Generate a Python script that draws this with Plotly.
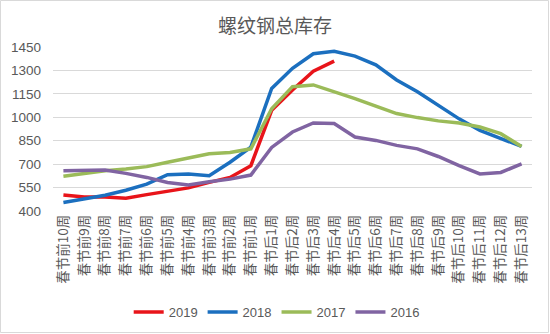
import plotly.graph_objects as go

categories = ["春节前10周", "春节前9周", "春节前8周", "春节前7周", "春节前6周",
              "春节前5周", "春节前4周", "春节前3周", "春节前2周", "春节前1周",
              "春节后1周", "春节后2周", "春节后3周", "春节后4周", "春节后5周",
              "春节后6周", "春节后7周", "春节后8周", "春节后9周", "春节后10周",
              "春节后11周", "春节后12周", "春节后13周"]

y2019 = [503, 490, 490, 482, 505, 525, 548, 583, 615, 690, 1045, 1175, 1295, 1360]
y2018 = [454, 475, 501, 533, 572, 632, 637, 626, 712, 809, 1185, 1314, 1407, 1422,
         1392, 1336, 1239, 1164, 1078, 990, 916, 863, 813]
y2017 = [622, 641, 658, 669, 684, 712, 740, 766, 774, 798, 1055, 1196, 1207, 1164,
         1120, 1071, 1024, 998, 977, 964, 938, 895, 813]
y2016 = [658, 658, 663, 641, 615, 583, 566, 587, 604, 630, 807, 906, 964, 960,
         874, 852, 820, 798, 749, 690, 637, 647, 701]

series_names = ["2019", "2018", "2017", "2016"]
series_values = [y2019, y2018, y2017, y2016]
colors = ["#E8141A", "#1B6FBF", "#9BBB59", "#8064A2"]

tick_vals = [400, 550, 700, 850, 1000, 1150, 1300, 1450]

fig = go.Figure()
for name, vals, col in zip(series_names, series_values, colors):
    fig.add_trace(go.Scatter(x=categories[:len(vals)], y=vals, mode="lines", name=name,
                             line=dict(color=col, width=3.5)))

L, R, T, B = 53, 18, 47, 123
W, H = 550, 334
pw, ph = W - L - R, H - T - B

fig.update_layout(
    width=W, height=H,
    margin=dict(l=L, r=R, t=T, b=B),
    paper_bgcolor="white", plot_bgcolor="white",
    font=dict(family="Noto Sans CJK SC", color="#595959"),
    title=dict(text="螺纹钢总库存", x=0.5, xanchor="center", y=1 - 26 / H, yanchor="middle",
               font=dict(size=19, color="#595959", family="Noto Sans CJK SC")),
    xaxis=dict(type="category", categoryarray=categories, range=[-0.5, 22.5],
               tickangle=-90, tickfont=dict(size=13.5, color="#595959"),
               showgrid=False, showline=False, ticks="", zeroline=False),
    yaxis=dict(range=[400, 1450], tickvals=tick_vals, showgrid=True, gridcolor="#D9D9D9",
               gridwidth=1, zeroline=False, showline=False, ticks="",
               tickfont=dict(size=13.5, color="#595959", family="Liberation Sans"),
               ticklabelstandoff=11),
    showlegend=True,
    legend=dict(orientation="h", x=0.467, xanchor="center", yref="container",
                y=1 - 312 / H, yanchor="middle",
                font=dict(size=13, color="#595959", family="Liberation Sans"),
                itemwidth=30, tracegroupgap=0),
    shapes=[dict(type="rect", xref="paper", yref="paper",
                 x0=-(L - 0.5) / pw, x1=1 + (R - 1.5) / pw,
                 y0=-(B - 1.5) / ph, y1=1 + (T - 0.5) / ph,
                 line=dict(color="#D9D9D9", width=1), layer="below")],
)

fig.write_html("out.html")
